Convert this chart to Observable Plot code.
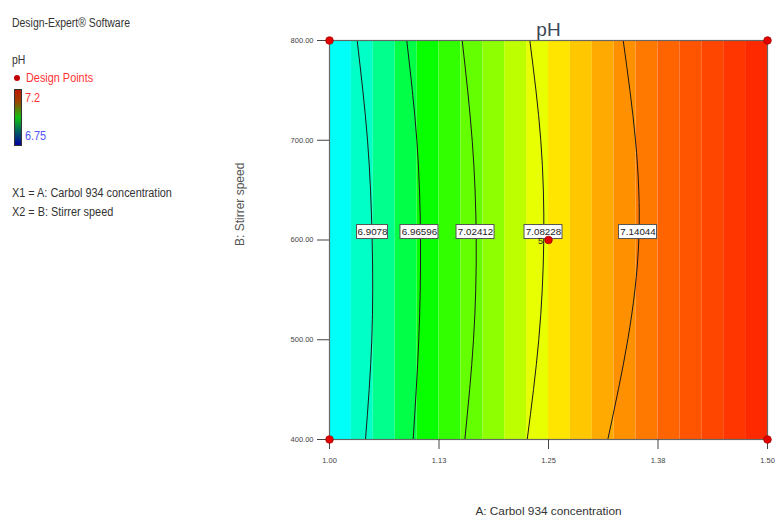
<!DOCTYPE html>
<html>
<head>
<meta charset="utf-8">
<script src="https://cdn.jsdelivr.net/npm/d3@7"></script>
<script src="https://cdn.jsdelivr.net/npm/@observablehq/plot@0.6"></script>
<style>
  html, body { margin: 0; padding: 0; background: #fff; }
  #wrap { position: relative; width: 775px; height: 522px; font-family: "Liberation Sans", Arial, sans-serif; }
  #wrap svg { position: absolute; left: 0; top: 0; }
  .lg { position: absolute; font-size: 12px; color: #333; white-space: nowrap; line-height: 1; transform: scaleX(0.87); transform-origin: 0 0; }
</style>
</head>
<body>
<div id="wrap"></div>
<script>
// ---- data ----
const xTicks = [1.00, 1.125, 1.25, 1.375, 1.50];
const yTicks = [400, 500, 600, 700, 800];
const xDomain = [1.0, 1.5];
const yDomain = [400, 800];

// pH of each of the 20 colour columns (left to right)
const columnPH = [6.865, 6.887, 6.913, 6.944, 6.978, 6.997, 7.019, 7.037, 7.059, 7.077,
                  7.099, 7.112, 7.125, 7.136, 7.147, 7.156, 7.163, 7.169, 7.176, 7.182];

// contour levels and their concentration positions at each stirrer speed
const contourLevels = [6.9078, 6.96596, 7.02412, 7.08228, 7.14044];
const contourLabels = ["6.9078", "6.96596", "7.02412", "7.08228", "7.14044"];
const contourSpeeds = [400, 500, 600, 700, 800];
const contourX = [
  [1.0411, 1.0483, 1.0487, 1.0434, 1.0316],
  [1.0955, 1.1019, 1.1039, 1.0997, 1.0882],
  [1.1545, 1.1644, 1.1675, 1.1629, 1.1515],
  [1.2257, 1.2389, 1.2446, 1.2412, 1.2287],
  [1.3177, 1.3405, 1.3531, 1.3493, 1.3353]
];
const labelX = [1.0491, 1.1027, 1.1667, 1.2443, 1.3522];
const labelSpeed = 608;

// design points
const designA = [1.00, 1.00, 1.50, 1.50, 1.25];
const designB = [400, 800, 400, 800, 600];
const designCount = ["", "", "", "", "5"];

const legendMin = 6.75, legendMax = 7.2;

// ---- tables built from the arrays ----
const step = (xDomain[1] - xDomain[0]) / columnPH.length;
const cells = columnPH.map((v, i) => ({x1: xDomain[0] + i * step, x2: xDomain[0] + (i + 1) * step, v}));
const lines = contourLevels.flatMap((lv, j) => contourSpeeds.map((s, k) => ({x: contourX[j][k], y: s, level: lv})));
const labels = contourLabels.map((t, j) => ({x: labelX[j], y: labelSpeed, t}));
const design = designA.map((a, i) => ({x: a, y: designB[i], n: designCount[i]}));

const mid = (legendMin + legendMax) / 2;
const q = (legendMax - legendMin) / 4;
const FONT = '"Liberation Sans", Arial, sans-serif';

const chart = Plot.plot({
  width: 775,
  height: 522,
  marginLeft: 329,
  marginRight: 8,
  marginTop: 40,
  marginBottom: 83,
  style: {fontFamily: FONT, background: "transparent"},
  x: {domain: xDomain},
  y: {domain: yDomain},
  color: {
    type: "linear",
    domain: [legendMin, legendMin + q, mid, mid + q, legendMax],
    range: ["#0000ff", "#00ffff", "#00ff00", "#ffff00", "#ff0000"],
    interpolate: "rgb"
  },
  marks: [
    Plot.rect(cells, {x1: "x1", x2: "x2", y1: yDomain[0], y2: yDomain[1], fill: "v"}),
    Plot.line(lines, {x: "x", y: "y", z: "level", curve: "natural", stroke: "#1a1a1a", strokeWidth: 1}),
    Plot.frame({stroke: "#666", strokeWidth: 1.2}),
    Plot.axisX({ticks: xTicks, tickFormat: d3.format(".2f"), tickSize: 10, tickPadding: 8, fontSize: 7.5, color: "#444", label: null}),
    Plot.axisY({ticks: yTicks, tickFormat: d3.format(".2f"), tickSize: 12, tickPadding: 4, fontSize: 7.5, color: "#444", label: null}),
    Plot.rect(labels.filter(d => d.t.length < 7), {x1: "x", x2: "x", y1: "y", y2: "y", insetLeft: -15.5, insetRight: -15.5, insetTop: -7, insetBottom: -7, fill: "white", stroke: "#555", strokeWidth: 1}),
    Plot.rect(labels.filter(d => d.t.length >= 7), {x1: "x", x2: "x", y1: "y", y2: "y", insetLeft: -19, insetRight: -19, insetTop: -7, insetBottom: -7, fill: "white", stroke: "#555", strokeWidth: 1}),
    Plot.text(labels, {x: "x", y: "y", text: "t", fontSize: 9.8, fill: "#222"}),
    Plot.dot(design, {x: "x", y: "y", r: 3.8, fill: "#e30000", stroke: "#a00000", strokeWidth: 0.8}),
    Plot.text(design, {x: "x", y: "y", text: "n", dx: -8, dy: 1, fontSize: 9, fill: "#222"}),
    Plot.text(["pH"], {frameAnchor: "top", dy: -18, fontSize: 19, fill: "#3b4656"}),
    Plot.text(["A: Carbol 934 concentration"], {frameAnchor: "bottom", dy: 75, fontSize: 11.8, fill: "#333"}),
    Plot.text(["B: Stirrer speed"], {frameAnchor: "left", dx: -89, dy: 6, rotate: -90, fontSize: 12, fill: "#555"})
  ]
});

const wrap = document.getElementById("wrap");
wrap.appendChild(chart);

// left-hand legend (HTML)
function addText(txt, left, top, color, size) {
  const d = document.createElement("div");
  d.className = "lg";
  d.textContent = txt;
  d.style.left = left + "px";
  d.style.top = top + "px";
  if (color) d.style.color = color;
  if (size) d.style.fontSize = size + "px";
  wrap.appendChild(d);
  return d;
}
addText("Design-Expert\u00ae Software", 12, 17, "#333", 12);
addText("pH", 12, 54, "#333", 12);
const dot = document.createElement("div");
Object.assign(dot.style, {position: "absolute", left: "14px", top: "75px", width: "6px", height: "6px", borderRadius: "50%", background: "#c00000"});
wrap.appendChild(dot);
addText("Design Points", 26, 72, "#ff3333", 12.5);
const bar = document.createElement("div");
Object.assign(bar.style, {position: "absolute", left: "14px", top: "89px", width: "6px", height: "55px",
  background: "linear-gradient(to bottom, #c01800, #a04000 20%, #10c010 50%, #006060 75%, #0000a0)",
  border: "1px solid #333"});
wrap.appendChild(bar);
addText(String(legendMax), 25, 92, "#ff3333", 12.5);
addText(String(legendMin), 25, 130, "#5555ff", 12.5);
addText("X1 = A: Carbol 934 concentration", 12, 187, "#333", 12.5);
addText("X2 = B: Stirrer speed", 12, 206, "#333", 12.5);
</script>
</body>
</html>
